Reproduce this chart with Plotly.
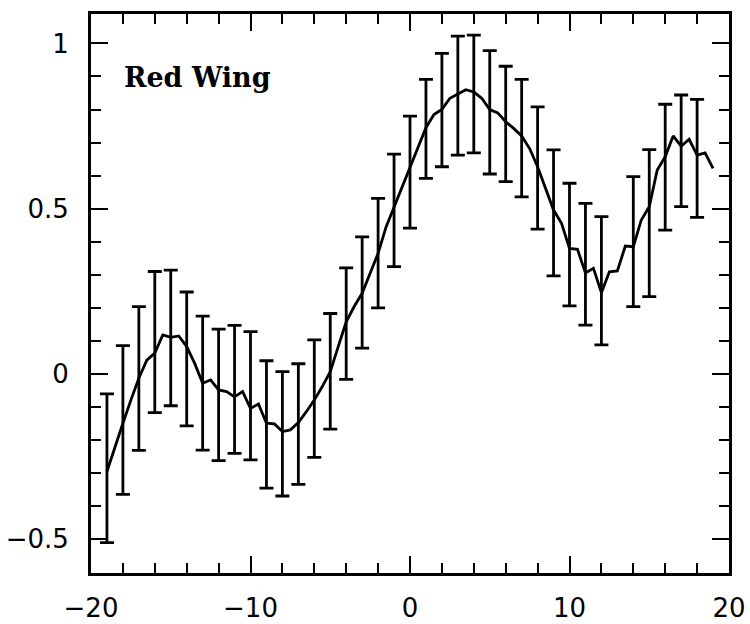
import plotly.graph_objects as go
import numpy as np

# error bar positions (no bar at x=13)
bar_x = [-19, -18, -17, -16, -15, -14, -13, -12, -11, -10, -9, -8, -7, -6, -5, -4, -3, -2, -1,
         0, 1, 2, 3, 4, 5, 6, 7, 8, 9, 10, 11, 12, 14, 15, 16, 17, 18]
bar_hi = [-0.060, 0.086, 0.204, 0.310, 0.314, 0.248, 0.175, 0.136, 0.147, 0.128, 0.040, 0.007,
          0.031, 0.103, 0.183, 0.321, 0.415, 0.531, 0.665, 0.780, 0.891, 0.970, 1.022, 1.025,
          0.978, 0.931, 0.891, 0.808, 0.678, 0.577, 0.516, 0.476, 0.597, 0.679, 0.816, 0.844, 0.831]
bar_lo = [-0.510, -0.364, -0.231, -0.117, -0.096, -0.157, -0.230, -0.262, -0.240, -0.260, -0.345,
          -0.369, -0.334, -0.252, -0.167, -0.016, 0.078, 0.200, 0.325, 0.441, 0.592, 0.627, 0.662,
          0.669, 0.605, 0.582, 0.536, 0.438, 0.297, 0.206, 0.148, 0.088, 0.204, 0.234, 0.435,
          0.506, 0.474]

# the smooth curve
line_x = [-19, -18.5, -18, -17.5, -17, -16.5, -16, -15.5, -15, -14.5, -14, -13.5, -13, -12.5,
          -12, -11.5, -11, -10.5, -10, -9.5, -9, -8.5, -8, -7.5, -7, -6.5, -6, -5.5, -5, -4.5,
          -4, -3.5, -3, -2.5, -2, -1.5, -1, -0.5, 0, 0.5, 1, 1.5, 2, 2.5, 3, 3.5, 4, 4.5, 5,
          5.5, 6, 6.5, 7, 7.5, 8, 8.5, 9, 9.5, 10, 10.5, 11, 11.5, 12, 12.5, 13, 13.5, 14,
          14.5, 15, 15.5, 16, 16.5, 17, 17.5, 18, 18.5, 19]
line_y = [-0.295, -0.220, -0.149, -0.079, -0.013, 0.042, 0.063, 0.118, 0.111, 0.115, 0.083,
          0.032, -0.028, -0.018, -0.048, -0.053, -0.069, -0.053, -0.104, -0.091, -0.149, -0.151,
          -0.174, -0.169, -0.147, -0.114, -0.079, -0.038, 0.007, 0.083, 0.158, 0.204, 0.244,
          0.305, 0.365, 0.445, 0.506, 0.566, 0.627, 0.687, 0.745, 0.785, 0.800, 0.834, 0.846,
          0.860, 0.853, 0.834, 0.800, 0.790, 0.763, 0.743, 0.720, 0.682, 0.627, 0.561, 0.496,
          0.456, 0.380, 0.377, 0.306, 0.320, 0.246, 0.309, 0.312, 0.387, 0.385, 0.466, 0.506,
          0.617, 0.657, 0.720, 0.689, 0.710, 0.662, 0.669, 0.622]

x_ticks = [-20, -10, 0, 10, 20]
x_ticktext = ["\u221220", "\u221210", "0", "10", "20"]
y_ticks = [-0.5, 0, 0.5, 1]
y_ticktext = ["\u22120.5", "0", "0.5", "1"]
label = "Red Wing"

hi = np.array(bar_hi)
lo = np.array(bar_lo)
mid = (hi + lo) / 2

fig = go.Figure()
fig.add_trace(go.Scatter(
    x=bar_x, y=mid, mode="markers",
    marker=dict(size=1, color="rgba(0,0,0,0)"),
    error_y=dict(type="data", symmetric=False, array=hi - mid, arrayminus=mid - lo,
                 color="black", thickness=2.8, width=7),
    showlegend=False, hoverinfo="skip"))
fig.add_trace(go.Scatter(
    x=line_x, y=line_y, mode="lines",
    line=dict(color="black", width=2.8),
    showlegend=False))

fig.add_annotation(text=label, xref="paper", yref="paper", x=0.048, y=0.886,
                   xanchor="left", yanchor="middle", showarrow=False,
                   font=dict(family="DejaVu Serif", size=27, color="black", weight="bold"))

axis_common = dict(showline=True, linecolor="black", linewidth=2.8, mirror="ticks",
                   ticks="inside", tickcolor="black", tickwidth=2.2, ticklen=17,
                   showgrid=False, zeroline=False, automargin=False,
                   tickfont=dict(family="DejaVu Sans", size=26, color="black"))

fig.update_xaxes(range=[-20, 20], tickvals=x_ticks, ticktext=x_ticktext,
                 minor=dict(dtick=2, ticks="inside", ticklen=10, tickwidth=2, tickcolor="black"),
                 ticklabelstandoff=10, **axis_common)
fig.update_yaxes(range=[-0.602, 1.089], tickvals=y_ticks, ticktext=y_ticktext,
                 minor=dict(dtick=0.1, ticks="inside", ticklen=10, tickwidth=2, tickcolor="black"),
                 ticklabelstandoff=14, **axis_common)

fig.update_layout(width=750, height=624, margin=dict(l=91, r=21, t=14, b=51),
                  plot_bgcolor="white", paper_bgcolor="white")

# drop the default 8px page margin so the figure sits at the window corner
fig.write_html("out.html", config={"displayModeBar": False},
               post_script="document.body.style.margin='0';")
